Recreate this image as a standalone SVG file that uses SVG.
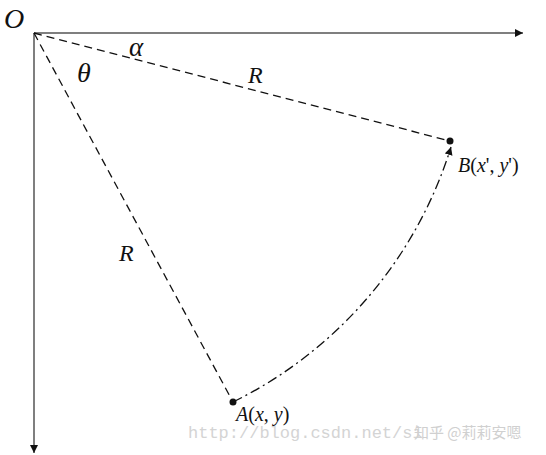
<svg xmlns="http://www.w3.org/2000/svg" width="546" height="455" viewBox="0 0 546 455">
<style>
.lbl{font-family:"Liberation Serif","Times New Roman",serif;font-style:italic;fill:#111}
.pt{font-family:"Liberation Serif","Times New Roman",serif;fill:#111;font-size:20px}
.axis{stroke:#555;stroke-width:1.5;fill:none}
.dash{stroke:#111;stroke-width:1.3;stroke-dasharray:8 5;fill:none}
.dashdot{stroke:#111;stroke-width:1.3;stroke-dasharray:10 4 2 4;fill:none}
.wm{font-family:"Liberation Mono","Courier New",monospace;fill:#d4d4d4;font-size:17px}
.wmc{font-family:"Noto Sans CJK SC",sans-serif;fill:#d0d0d0;font-size:15px}
</style>
<defs>
<marker id="ah" viewBox="0 0 10 10" refX="10" refY="5" markerWidth="8" markerHeight="8" markerUnits="userSpaceOnUse" orient="auto">
<path d="M0,0 L10,5 L0,10 z" fill="#111"/>
</marker>
</defs>
<rect width="546" height="455" fill="#fff"/>
<g id="connectors">
<line id="x-axis" class="axis" x1="34" y1="33" x2="523" y2="33" marker-end="url(#ah)"/>
<line id="y-axis" class="axis" x1="34" y1="33" x2="34" y2="453" marker-end="url(#ah)"/>
<line id="OB" class="dash" x1="34" y1="33" x2="450" y2="141"/>
<line id="OA" class="dash" x1="34" y1="33" x2="233" y2="402"/>
<path id="arc" class="dashdot" d="M233,402 A424,424 0 0 0 451,147" marker-end="url(#ah)"/>
</g>
<g id="O"><text class="lbl" x="4" y="28" font-size="28">O</text></g>
<g id="theta"><text class="lbl" x="77" y="82" font-size="28">θ</text></g>
<g id="alpha"><text class="lbl" x="129" y="56" font-size="27">α</text></g>
<g id="R1"><text class="lbl" x="248" y="83" font-size="24">R</text></g>
<g id="R2"><text class="lbl" x="119" y="261" font-size="24">R</text></g>
<g id="B">
<circle cx="450" cy="141" r="3.5" fill="#111"/>
<text class="pt" x="458" y="172"><tspan font-style="italic">B</tspan>(<tspan font-style="italic">x</tspan>', <tspan font-style="italic">y</tspan>')</text>
</g>
<g id="A">
<circle cx="233" cy="402" r="3.5" fill="#111"/>
<text class="pt" x="236" y="421" font-size="21"><tspan font-style="italic">A</tspan>(<tspan font-style="italic">x</tspan>, <tspan font-style="italic">y</tspan>)</text>
</g>
<g id="watermark">
<text class="wm" x="188" y="438">http://blog.csdn.net/si</text>
<text class="wmc" x="414" y="438">知乎 @莉莉安嗯</text>
</g>
</svg>
